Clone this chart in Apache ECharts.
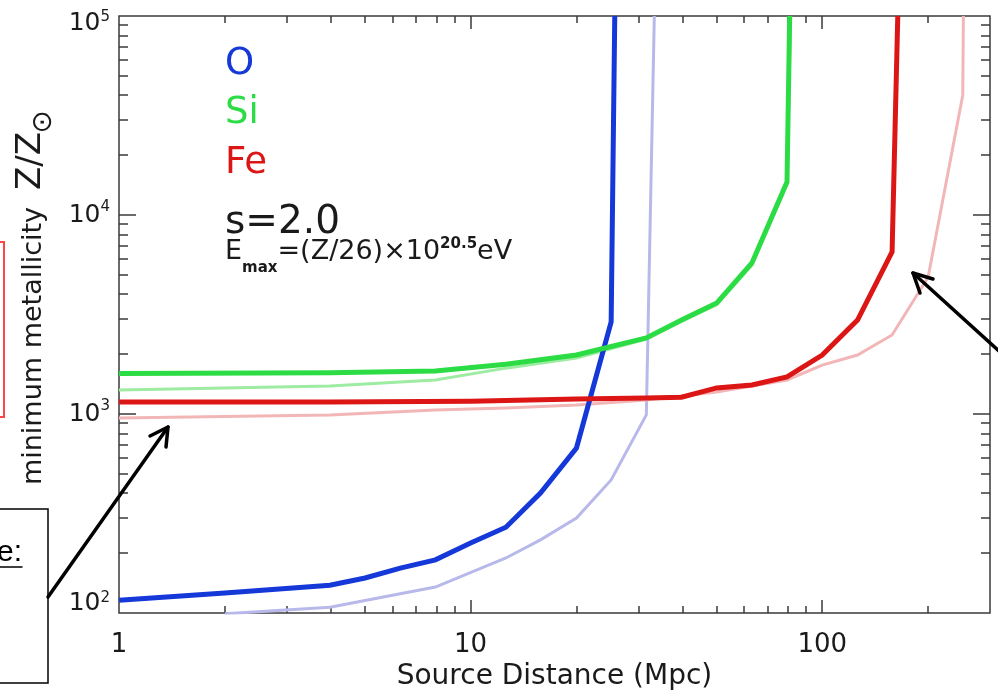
<!DOCTYPE html>
<html>
<head>
<meta charset="utf-8">
<title>Minimum metallicity vs source distance</title>
<script src="https://cdn.jsdelivr.net/npm/echarts@6/dist/echarts.min.js"></script>
<style>
  html, body { margin: 0; padding: 0; background: #fff; }
  #chart { width: 998px; height: 699px; }
</style>
</head>
<body>
<div id="chart"></div>
<script>
'use strict';

// source distance (Mpc) / minimum metallicity (Z/Zsun)
var oDist = [1, 2, 3.98, 5.01, 6.31, 7.94, 10, 12.6, 15.8, 20, 25.1, 25.7];
var oMetal = [116, 126, 138, 150, 168, 185, 225, 270, 401, 675, 2900, 100000];
var oLightDist = [2, 3.98, 7.94, 12.6, 15.8, 20, 25.1, 31.6, 33.3];
var oLightMetal = [99, 107, 135, 189, 233, 300, 466, 990, 100000];

var siDist = [1, 3.98, 7.94, 12.6, 20, 31.6, 39.8, 50.1, 63.1, 79.4, 80.8];
var siMetal = [1600, 1610, 1644, 1780, 1978, 2410, 2966, 3610, 5740, 14650, 100000];
var siLightDist = [1, 3.98, 7.94, 12.6, 20, 31.6, 39.8, 50.1, 63.1, 79.4, 81.3];
var siLightMetal = [1321, 1383, 1483, 1700, 1911, 2380, 2920, 3540, 5600, 14300, 100000];

var feDist = [1, 3.98, 10, 20, 31.6, 39.8, 50.1, 63.1, 79.4, 100, 126, 158, 164];
var feMetal = [1148, 1150, 1160, 1189, 1202, 1215, 1352, 1400, 1535, 1978, 2966, 6520, 100000];
var feLightDist = [1, 3.98, 7.94, 12.6, 20, 31.6, 50.1, 79.4, 100, 126, 158, 200, 251, 252];
var feLightMetal = [955, 989, 1047, 1072, 1110, 1175, 1290, 1482, 1762, 1978, 2495, 4870, 40000, 100000];

// axes
var xRange = [1, 300];
var yRange = [100, 100000];
var xLabelTicks = [1, 10, 100];
var xMajorTicks = [10, 100];
var xMinorTicks = [2, 3, 4, 5, 6, 7, 8, 9, 20, 30, 40, 50, 60, 70, 80, 90, 200];
var yLabelTicks = [100, 1000, 10000, 100000];
var yMajorTicks = [1000, 10000];
var yMinorTicks = [200, 300, 400, 500, 600, 700, 800, 900,
  2000, 3000, 4000, 5000, 6000, 7000, 8000, 9000,
  20000, 30000, 40000, 50000, 60000, 70000, 80000, 90000];

var FONT = '"DejaVu Sans", sans-serif';
var INK = '#1a1a1a';
var AXIS = '#3a3a3a';

function lg(v) {
  return Math.log10(v);
}

function pairs(xs, ys) {
  return xs.map(function (x, i) { return [x, ys[i]]; });
}

// tick-only overlay axis, drawn in log10 space so ticks sit at 2,3..9 etc
function tickAxis(range, position, ticks, len, label) {
  return {
    type: 'value',
    gridIndex: 0,
    position: position,
    min: lg(range[0]),
    max: lg(range[1]),
    axisLine: {show: false, onZero: false},
    splitLine: {show: false},
    axisTick: {
      show: true,
      inside: true,
      length: len,
      customValues: ticks.map(lg),
      lineStyle: {color: AXIS, width: 1.5}
    },
    axisLabel: label || {show: false}
  };
}

var xLabel = {
  show: true,
  customValues: xLabelTicks.map(lg),
  showMinLabel: true,
  showMaxLabel: true,
  margin: 19,
  color: INK,
  fontFamily: FONT,
  fontSize: 26,
  formatter: function (v) {
    return String(Math.round(Math.pow(10, v)));
  }
};

// the lowest and highest labels are nudged inside the frame, like the original
var yLabel = {
  show: true,
  customValues: yLabelTicks.map(lg),
  showMinLabel: true,
  showMaxLabel: true,
  margin: 9,
  formatter: function (v) {
    var p = Math.round(v);
    var k = p === 2 ? 'lo' : (p === 5 ? 'hi' : '');
    return '{b' + k + '|10}{s' + k + '|' + p + '}';
  },
  rich: {
    b: {fontFamily: FONT, fontSize: 25, color: INK, lineHeight: 30, verticalAlign: 'middle'},
    s: {fontFamily: FONT, fontSize: 15, color: INK, lineHeight: 16, verticalAlign: 'top'},
    blo: {fontFamily: FONT, fontSize: 25, color: INK, lineHeight: 45, verticalAlign: 'top'},
    slo: {fontFamily: FONT, fontSize: 15, color: INK, lineHeight: 45, verticalAlign: 'top'},
    bhi: {fontFamily: FONT, fontSize: 25, color: INK, lineHeight: 39, verticalAlign: 'bottom'},
    shi: {fontFamily: FONT, fontSize: 15, color: INK, lineHeight: 39, verticalAlign: 'bottom', padding: [0, 0, 11, 0]}
  }
};

var bottomMajor = tickAxis(xRange, 'bottom', xMajorTicks, 13, xLabel);
bottomMajor.name = 'Source Distance (Mpc)';
bottomMajor.nameLocation = 'middle';
bottomMajor.nameGap = 46;
bottomMajor.nameTextStyle = {fontFamily: FONT, fontSize: 28, color: INK};

function line(name, xs, ys, color, width, z) {
  return {
    name: name,
    type: 'line',
    xAxisIndex: 0,
    yAxisIndex: 0,
    data: pairs(xs, ys),
    showSymbol: false,
    symbol: 'none',
    clip: true,
    z: z,
    lineStyle: {color: color, width: width, join: 'miter'}
  };
}

function label(text, x, y, color, size) {
  return {
    type: 'text', x: x, y: y, z: 50,
    style: {
      text: text, fill: color, fontFamily: FONT, fontSize: size,
      align: 'left', textAlign: 'left',
      verticalAlign: 'middle', textVerticalAlign: 'middle'
    }
  };
}

function stroke(points, width, color) {
  return {
    type: 'polyline', z: 60,
    shape: {points: points},
    style: {stroke: color || '#000', lineWidth: width, fill: null, lineCap: 'round', lineJoin: 'round'}
  };
}

var myChart = echarts.init(document.getElementById('chart'), null, {renderer: 'canvas'});

var option = {
  animation: false,
  backgroundColor: '#fff',
  grid: {
    left: 119, right: 8, top: 16, bottom: 86,
    show: true,
    borderColor: AXIS,
    borderWidth: 1.5,
    backgroundColor: 'transparent',
    containLabel: false,
    outerBoundsMode: 'none'
  },
  xAxis: [
    {
      type: 'log', logBase: 10, gridIndex: 0, position: 'bottom',
      min: xRange[0], max: xRange[1],
      axisLine: {show: false, onZero: false}, axisTick: {show: false},
      axisLabel: {show: false}, splitLine: {show: false}
    },
    bottomMajor,
    tickAxis(xRange, 'bottom', xMinorTicks, 7),
    tickAxis(xRange, 'top', xMajorTicks, 13),
    tickAxis(xRange, 'top', xMinorTicks, 7)
  ],
  yAxis: [
    {
      type: 'log', logBase: 10, gridIndex: 0, position: 'left',
      min: yRange[0], max: yRange[1],
      axisLine: {show: false, onZero: false}, axisTick: {show: false},
      axisLabel: {show: false}, splitLine: {show: false}
    },
    tickAxis(yRange, 'left', yMajorTicks, 17, yLabel),
    tickAxis(yRange, 'left', yMinorTicks, 9),
    tickAxis(yRange, 'right', yMajorTicks, 17),
    tickAxis(yRange, 'right', yMinorTicks, 9)
  ],
  series: [
    line('O (light)', oLightDist, oLightMetal, '#b8b9ea', 3, 2),
    line('Si (light)', siLightDist, siLightMetal, '#9eeba2', 3, 2),
    line('Fe (light)', feLightDist, feLightMetal, '#f2b6b6', 3, 2),
    line('O', oDist, oMetal, '#1538d8', 5, 3),
    line('Si', siDist, siMetal, '#2cdc44', 5, 3),
    line('Fe', feDist, feMetal, '#dc1515', 5, 3)
  ],
  graphic: [
    label('O', 225, 64, '#1538d8', 37),
    label('Si', 225, 113, '#2cdc44', 37),
    label('Fe', 225, 163, '#dc1515', 37),
    label('s=2.0', 225, 223, INK, 39),
    {
      type: 'text', x: 225, y: 252, z: 50,
      style: {
        text: '{m|E}{d|max}{m|=(Z/26)×10}{u|20.5}{m|eV}',
        align: 'left', textAlign: 'left',
        verticalAlign: 'middle', textVerticalAlign: 'middle',
        rich: {
          m: {fontFamily: FONT, fontSize: 27, fill: INK, color: INK, lineHeight: 48, verticalAlign: 'middle'},
          d: {fontFamily: FONT, fontSize: 15, fontWeight: 'bold', fill: INK, color: INK, lineHeight: 14, verticalAlign: 'bottom'},
          u: {fontFamily: FONT, fontSize: 15, fontWeight: 'bold', fill: INK, color: INK, verticalAlign: 'top', padding: [9, 0, 0, 0]}
        }
      }
    },
    // y axis title, reads bottom to top
    {
      type: 'text', x: 34, y: 346, rotation: Math.PI / 2, z: 50,
      style: {
        text: 'minimum metallicity', fill: INK, fontFamily: FONT, fontSize: 27,
        align: 'center', textAlign: 'center',
        verticalAlign: 'middle', textVerticalAlign: 'middle'
      }
    },
    {
      type: 'text', x: 31, y: 161, rotation: Math.PI / 2, z: 50,
      style: {
        text: 'Z/Z', fill: INK, fontFamily: FONT, fontSize: 34,
        align: 'center', textAlign: 'center',
        verticalAlign: 'middle', textVerticalAlign: 'middle'
      }
    },
    {
      type: 'text', x: 44, y: 122, rotation: Math.PI / 2, z: 50,
      style: {
        text: '⊙', fill: INK, fontFamily: FONT, fontSize: 28,
        align: 'center', textAlign: 'center',
        verticalAlign: 'middle', textVerticalAlign: 'middle'
      }
    },
    // slide overlays around the plot
    {
      type: 'rect', z: 60,
      shape: {x: -10, y: 242, width: 14, height: 175},
      style: {stroke: '#ff4646', lineWidth: 2, fill: null}
    },
    {
      type: 'rect', z: 60,
      shape: {x: -10, y: 509, width: 58, height: 174},
      style: {stroke: '#000', lineWidth: 1.5, fill: '#fff'}
    },
    {
      type: 'text', x: 22, y: 553, z: 61,
      style: {
        text: 'e:', fill: '#000', fontFamily: '"Liberation Sans", sans-serif', fontSize: 30,
        align: 'right', textAlign: 'right',
        verticalAlign: 'middle', textVerticalAlign: 'middle'
      }
    },
    stroke([[0, 567], [22, 567]], 1.5),
    stroke([[48, 597], [168, 427]], 3.5),
    stroke([[150, 436], [168, 427], [166, 447]], 3.5),
    stroke([[1000, 352], [913, 273]], 3.5),
    stroke([[933, 279], [913, 273], [920, 293]], 3.5)
  ]
};

myChart.setOption(option);
</script>
</body>
</html>
